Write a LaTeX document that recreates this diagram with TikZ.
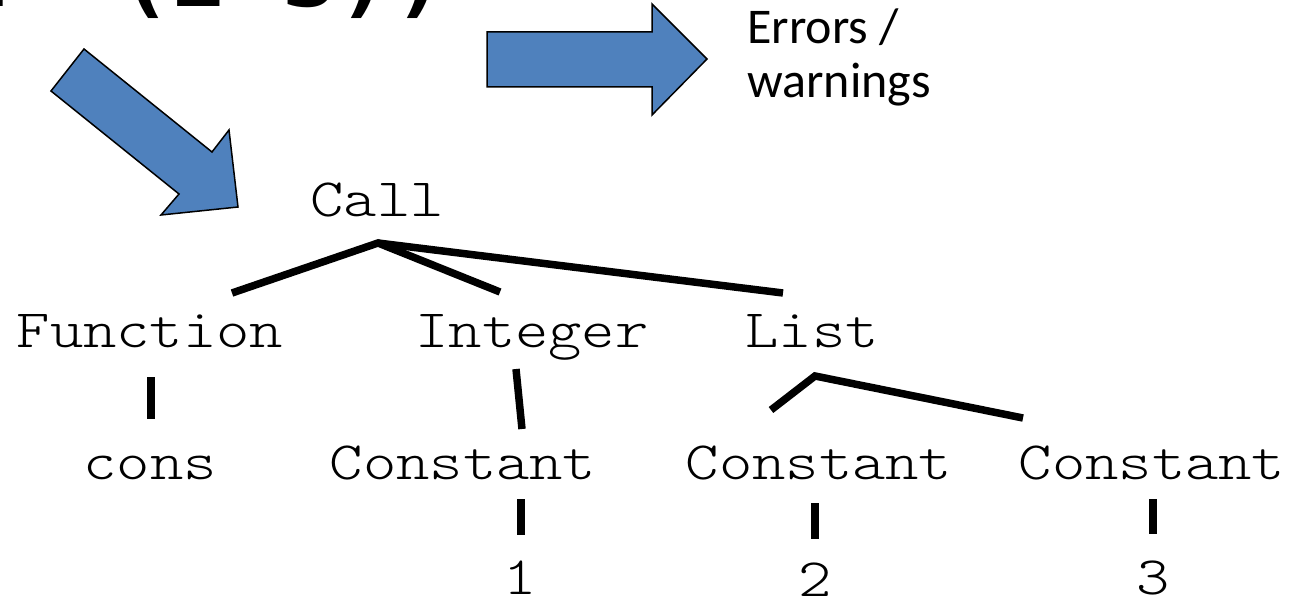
\documentclass[tikz,border=0pt]{standalone}
\usepackage{fontspec}
\setmainfont{Carlito}
\newfontfamily\codefont{DejaVu Sans Mono}
\newfontfamily\treefont{lmmonolt10-regular.otf}[FakeStretch=1.175]
\definecolor{arrowblue}{HTML}{4F81BD}
\tikzset{
  treelabel/.style={font=\fontsize{54bp}{60bp}\selectfont\treefont, inner sep=0pt, anchor=base},
  edge/.style={line width=7.5bp},
  bigarrow/.style={fill=arrowblue, draw=black, line width=1.5bp, line join=miter},
  note/.style={font=\fontsize{50bp}{60bp}\selectfont, inner sep=0pt, anchor=base west}
}
\begin{document}
\begin{tikzpicture}[x=1bp, y=-1bp]
\useasboundingbox (0,0) rectangle (1292,601);
\clip (0,0) rectangle (1292,601);

% source expression (runs off the top edge)
\node[font=\fontsize{91.4bp}{100bp}\selectfont\codefont\bfseries, inner sep=0pt, anchor=base west]
  (src) at (-377.5,7) {(cons 1 '(2 3))};

% block arrows
\draw[bigarrow] (84,49) -- (212,152) -- (229,130) -- (238,207) -- (161,215) -- (179,194) -- (51,91) -- cycle;
\draw[bigarrow] (487,32) -- (652,32) -- (652,4) -- (707,59) -- (652,115) -- (652,87) -- (487,87) -- cycle;

\node[note] (errA) at (747,44) {Errors /};
\node[note] (errB) at (747,98) {warnings};

% syntax tree
\node[treelabel] (call)  at (377,217) {Call};
\node[treelabel] (func)  at (150,348) {Function};
\node[treelabel] (intg)  at (532,348) {Integer};
\node[treelabel] (list)  at (812,348) {List};
\node[treelabel] (cons)  at (150,479) {cons};
\node[treelabel] (cA)    at (463,479) {Constant};
\node[treelabel] (cB)    at (819,479) {Constant};
\node[treelabel] (cC)    at (1152,479) {Constant};
\node[treelabel] (one)   at (520,594) {1};
\node[treelabel] (two)   at (815,596) {2};
\node[treelabel] (three) at (1153,594) {3};

% connector end points
\coordinate (callroot) at (378,243);
\coordinate (funcup)   at (232,293);
\coordinate (intgup)   at (500,292);
\coordinate (listup)   at (783,293);
\coordinate (funcdn)   at (151,377);
\coordinate (consup)   at (151,419);
\coordinate (intgdn)   at (516,369);
\coordinate (cAup)     at (522,429);
\coordinate (listdn)   at (815,376);
\coordinate (cBup)     at (771,410);
\coordinate (cCup)     at (1023,418);
\coordinate (cAdn)     at (521,499);
\coordinate (oneup)    at (521,535);
\coordinate (cBdn)     at (815,503);
\coordinate (twoup)    at (815,539);
\coordinate (cCdn)     at (1153,499);
\coordinate (threeup)  at (1153,534);

\draw[edge] (funcup) -- (callroot) -- (intgup);
\draw[edge] (callroot) -- (listup);
\draw[edge] (funcdn) -- (consup);
\draw[edge] (intgdn) -- (cAup);
\draw[edge] (cBup) -- (listdn) -- (cCup);
\draw[edge] (cAdn) -- (oneup);
\draw[edge] (cBdn) -- (twoup);
\draw[edge] (cCdn) -- (threeup);
\end{tikzpicture}
\end{document}
